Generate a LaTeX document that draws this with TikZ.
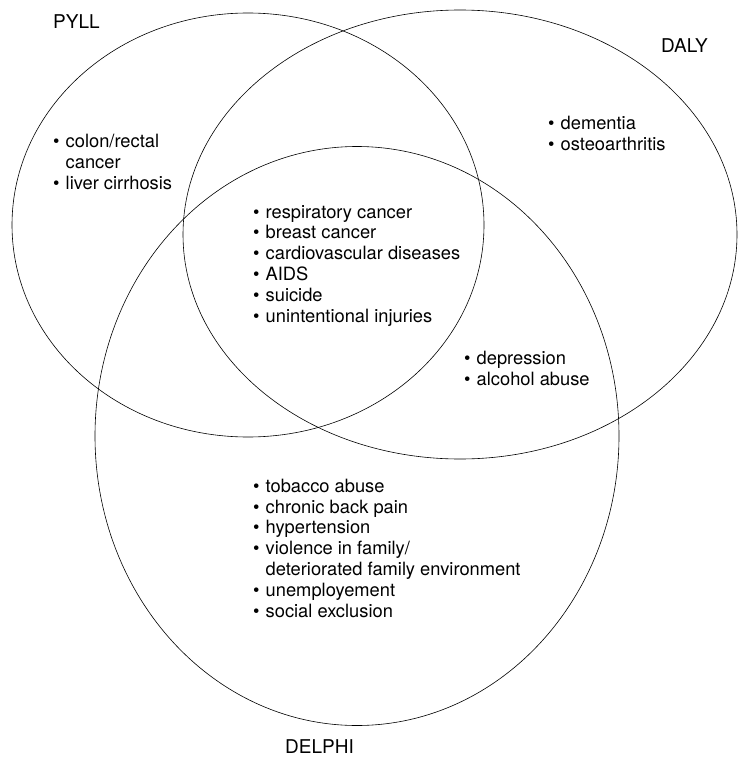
\documentclass[tikz,border=0pt]{standalone}
\usepackage{fontspec}
\setmainfont{TeX Gyre Heros}
\usetikzlibrary{shapes.geometric, positioning}
\tikzset{
    x=1pt, y=-1pt,
    set/.style ={ellipse, draw, line width=0.6pt, inner sep=0pt},
    setname/.style = {inner sep=0pt, anchor=base west, font=\fontsize{19}{22}\selectfont},
    items/.style = {inner sep=0pt, align=left, anchor=base west, font=\fontsize{18.3}{20.8}\selectfont}
}
\newcommand{\itm}{\makebox[12.5pt][l]{\textbullet}}
\newcommand{\cnt}{\hspace*{12.5pt}}

\begin{document}
\begin{tikzpicture}
  \useasboundingbox (0,0) rectangle (737,757);

  % the three sets
  \node[set, minimum width=472pt, minimum height=424pt] (pyll) at (248,225) {};
  \node[set, minimum width=554pt, minimum height=449pt] (daly) at (460,234.5) {};
  \node[set, minimum width=524pt, minimum height=579pt] (delphi) at (357,436) {};

  \node[setname] (pyllname) at (53,29) {PYLL};
  \node[setname] (dalyname) at (661,53) {DALY};
  \node[setname] (delphiname) at (285,753) {DELPHI};

  % entries of the regions (placed at the baseline of their last line)
  \node[items] (pyllonly) at (53,189.5)
    {\itm colon/rectal\\ \cnt cancer\\ \itm liver cirrhosis};
  \node[items] (allthree) at (253,322)
    {\itm respiratory cancer\\ \itm breast cancer\\ \itm cardiovascular diseases\\
     \itm AIDS\\ \itm suicide\\ \itm unintentional injuries};
  \node[items] (dalyonly) at (548,150)
    {\itm dementia\\ \itm osteoarthritis};
  \node[items] (dalydelphi) at (464,385)
    {\itm depression\\ \itm alcohol abuse};
  \node[items] (delphionly) at (253,617)
    {\itm tobacco abuse\\ \itm chronic back pain\\ \itm hypertension\\
     \itm violence in family/\\ \cnt deteriorated family environment\\
     \itm unemployement\\ \itm social exclusion};
\end{tikzpicture}
\end{document}
